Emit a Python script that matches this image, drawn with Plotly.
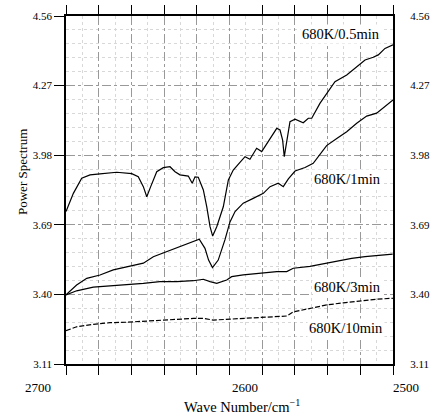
import plotly.graph_objects as go

# ---- data ----
wn_05 = [2700, 2695.5, 2690.4, 2685.3, 2679.2, 2669.0, 2659.8, 2655.8, 2652.7, 2650.6, 2648.2, 2644.5,
         2640.5, 2636.4, 2633.3, 2630.3, 2625.2, 2622.8, 2621.1, 2619.1, 2616.0, 2613.9, 2611.9, 2610.3,
         2607.8, 2603.8, 2600.7, 2597.7, 2593.6, 2590.5, 2587.5, 2583.4, 2580.3, 2575.2, 2571.1, 2569.1,
         2567.5, 2566.5, 2565.0, 2563.0, 2559.9, 2557.9, 2554.9, 2551.8, 2549.7, 2544.7, 2540.6, 2535.5,
         2528.3, 2522.2, 2517.1, 2512.1, 2509.0, 2504.9, 2500.8, 2500]
ps_05 = [3.745, 3.821, 3.884, 3.898, 3.902, 3.909, 3.903, 3.890, 3.849, 3.807, 3.849, 3.911,
         3.928, 3.932, 3.911, 3.898, 3.893, 3.863, 3.890, 3.888, 3.835, 3.765, 3.682, 3.643,
         3.682, 3.765, 3.877, 3.918, 3.950, 3.974, 3.963, 4.009, 3.995, 4.050, 4.092, 4.085,
         4.043, 3.974, 4.030, 4.120, 4.130, 4.124, 4.115, 4.134, 4.134, 4.196, 4.238, 4.286,
         4.314, 4.349, 4.377, 4.388, 4.398, 4.425, 4.439, 4.440]

wn_1 = [2700, 2693.5, 2687.3, 2679.2, 2671.1, 2662.9, 2652.7, 2646.6, 2638.4, 2630.3, 2622.1, 2618.5,
        2615.0, 2612.8, 2610.4, 2606.9, 2602.8, 2599.7, 2596.6, 2591.6, 2585.5, 2579.3, 2575.2, 2570.2,
        2567.1, 2564.0, 2559.9, 2553.8, 2548.8, 2545.9, 2540.6, 2534.4, 2528.3, 2522.2, 2516.1, 2510.0,
        2504.9, 2500.8, 2500]
ps_1 = [3.398, 3.439, 3.467, 3.481, 3.502, 3.515, 3.530, 3.557, 3.578, 3.599, 3.620, 3.630,
        3.592, 3.543, 3.512, 3.543, 3.627, 3.702, 3.745, 3.780, 3.800, 3.821, 3.849, 3.863,
        3.849, 3.881, 3.914, 3.929, 3.946, 3.972, 4.020, 4.050, 4.078, 4.113, 4.143, 4.155,
        4.182, 4.207, 4.210]

wn_3 = [2700, 2693.5, 2683.3, 2673.1, 2662.9, 2652.7, 2642.6, 2632.3, 2622.1, 2616.0, 2611.9, 2607.8,
        2601.7, 2598.7, 2591.6, 2581.3, 2571.1, 2565.0, 2561.0, 2550.8, 2541.0, 2531.4, 2525.3, 2517.1,
        2506.9, 2500.2]
ps_3 = [3.398, 3.415, 3.430, 3.435, 3.439, 3.446, 3.453, 3.453, 3.457, 3.463, 3.453, 3.446,
        3.460, 3.474, 3.481, 3.488, 3.495, 3.495, 3.509, 3.517, 3.529, 3.543, 3.550, 3.557,
        3.564, 3.568]

wn_10 = [2700, 2693.5, 2683.3, 2673.1, 2662.9, 2652.7, 2642.6, 2632.3, 2622.1, 2616.0, 2609.9, 2601.7,
         2591.6, 2581.3, 2571.1, 2565.0, 2561.0, 2550.8, 2540.6, 2530.4, 2520.2, 2510.0, 2500]
ps_10 = [3.249, 3.265, 3.275, 3.282, 3.284, 3.289, 3.293, 3.296, 3.300, 3.300, 3.293, 3.296,
         3.300, 3.305, 3.307, 3.310, 3.327, 3.342, 3.356, 3.365, 3.374, 3.380, 3.384]

series_names = ["680K/0.5min", "680K/1min", "680K/3min", "680K/10min"]
y_tick_vals = [3.11, 3.40, 3.69, 3.98, 4.27, 4.56]
y_tick_text = ["3.11", "3.40", "3.69", "3.98", "4.27", "4.56"]
x_tick_labels = [2700, 2600, 2500]

SERIF = "Liberation Serif"
W, H = 435, 415
ML, MR, MT, MB = 66, 42, 16, 51
PW, PH = W - ML - MR, H - MT - MB

fig = go.Figure()
for wn, ps, dash in [(wn_05, ps_05, "solid"), (wn_1, ps_1, "solid"),
                     (wn_3, ps_3, "solid"), (wn_10, ps_10, "5px,2px")]:
    fig.add_trace(go.Scatter(x=wn, y=ps, mode="lines",
                             line=dict(color="black", width=1.2, dash=dash),
                             showlegend=False))

# invisible trace for the right y axis
fig.add_trace(go.Scatter(x=[2700], y=[3.11], yaxis="y2", mode="markers",
                         marker=dict(opacity=0), showlegend=False, hoverinfo="skip"))

fig.update_layout(
    width=W, height=H,
    margin=dict(l=ML, r=MR, t=MT, b=MB, autoexpand=False),
    paper_bgcolor="white", plot_bgcolor="white",
    font=dict(family=SERIF, color="black"),
    xaxis=dict(range=[2700, 2500], tick0=2500, dtick=20, showticklabels=False,
               ticks="outside", ticklen=9, tickcolor="black", tickwidth=1,
               showline=True, linecolor="black", linewidth=1.6, mirror="ticks",
               showgrid=True, gridcolor="#999", griddash="dashdot", gridwidth=0.6,
               minor=dict(dtick=10, tick0=2500, showgrid=True, gridcolor="#d8d8d8",
                          griddash="dot", gridwidth=0.5),
               zeroline=False, automargin=False),
    yaxis=dict(range=[3.11, 4.56], tickvals=y_tick_vals, ticktext=y_tick_text,
               ticks="outside", ticklen=10, tickcolor="black", tickwidth=1,
               tickfont=dict(size=11, family=SERIF),
               showline=True, linecolor="black", linewidth=1.6, mirror=True,
               showgrid=True, gridcolor="#999", griddash="dashdot", gridwidth=0.6,
               minor=dict(dtick=0.058, tick0=3.11, showgrid=True, gridcolor="#d8d8d8",
                          griddash="dot", gridwidth=0.5),
               zeroline=False, automargin=False),
    yaxis2=dict(range=[3.11, 4.56], tickvals=y_tick_vals, ticktext=y_tick_text,
                overlaying="y", side="right", showgrid=False, zeroline=False,
                ticks="outside", ticklen=14, tickcolor="rgba(0,0,0,0)",
                tickfont=dict(size=11, family=SERIF), showline=False, automargin=False),
)

# axis titles
fig.add_annotation(x=(22 - ML) / PW, y=(H - MB - 172) / PH, xref="paper", yref="paper",
                   text="Power Spectrum", showarrow=False, textangle=-90,
                   font=dict(size=13, family=SERIF), xanchor="center", yanchor="middle")
fig.add_annotation(x=(242 - ML) / PW, y=-(395 - (H - MB)) / PH, xref="paper", yref="paper",
                   text="Wave Number/cm<sup>−1</sup>", showarrow=False,
                   font=dict(size=14.5, family=SERIF), xanchor="center", yanchor="top")

# x tick labels (offset as in the reference)
for val, shift in zip(x_tick_labels, [-28, 15, 13]):
    fig.add_annotation(x=val, y=0, xref="x", yref="paper", text=str(val),
                       showarrow=False, xshift=shift, yshift=-14, yanchor="top",
                       font=dict(size=13, family=SERIF))

# curve labels
label_pos = [(2532, 4.485), (2528, 3.88), (2528, 3.43), (2529, 3.262)]
for name, (lx, ly) in zip(series_names, label_pos):
    fig.add_annotation(x=lx, y=ly, text=name, showarrow=False,
                       font=dict(size=14.5, family=SERIF), bgcolor="white")

fig.write_html("out.html", config={"displayModeBar": False},
               post_script="document.body.style.margin='0';")
